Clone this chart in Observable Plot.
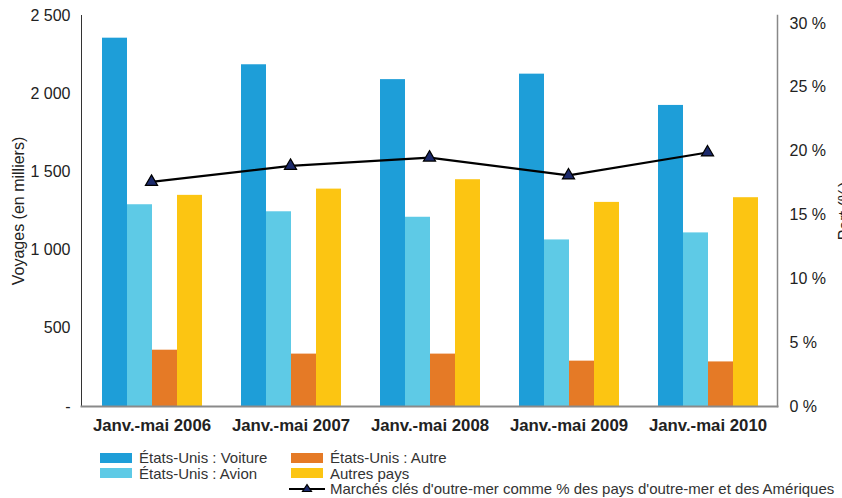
<!DOCTYPE html>
<html>
<head>
<meta charset="utf-8">
<script src="https://cdn.jsdelivr.net/npm/d3@7"></script>
<script src="https://cdn.jsdelivr.net/npm/@observablehq/plot@0.6"></script>
<style>
  html, body { margin: 0; padding: 0; background: #fff; overflow: hidden; }
  #wrap { position: relative; width: 842px; height: 498px; font-family: "Liberation Sans", Arial, sans-serif; color: #222; }
  #wrap > svg { position: absolute; left: 0; top: 0; }
  #legend { position: absolute; left: 100px; top: 450px; display: grid; grid-template-columns: 191px auto; grid-template-rows: repeat(3, 15.5px); font-size: 15px; color: #333; }
  .item { display: flex; align-items: center; white-space: nowrap; }
  .sw { width: 32px; height: 10px; margin-right: 7px; }
  .lineicon { margin-left: -2px; margin-right: 5px; }
</style>
</head>
<body>
<div id="wrap"></div>
<script>
const years = ["Janv.-mai 2006", "Janv.-mai 2007", "Janv.-mai 2008", "Janv.-mai 2009", "Janv.-mai 2010"];
const series = ["États-Unis : Voiture", "États-Unis : Avion", "États-Unis : Autre", "Autres pays"];
const colors = ["#1e9ed8", "#5ecae6", "#e57a26", "#fcc512"];
const voiture = [2355, 2185, 2090, 2125, 1925];
const avion = [1290, 1245, 1210, 1065, 1110];
const autre = [360, 335, 335, 290, 285];
const autresPays = [1350, 1390, 1450, 1305, 1335];
const partLabel = "Marchés clés d'outre-mer comme % des pays d'outre-mer et des Amériques";
const part = [17.6, 18.85, 19.5, 18.1, 19.9];
const leftTicks = [0, 500, 1000, 1500, 2000, 2500];
const rightTicks = [0, 5, 10, 15, 20, 25, 30];

const seriesValues = [voiture, avion, autre, autresPays];
const table = [];
years.forEach((yr, i) => series.forEach((s, k) => table.push({year: yr, series: s, value: seriesValues[k][i]})));
const lineData = years.map((yr, i) => ({year: yr, part: part[i]}));

const fmtLeft = d => d === 0 ? "-" : d3.format(",")(d).replace(/,/g, " ");

const W = 842, H = 442, ML = 81, MR = 65, MT = 15, MB = 36;
const font = {fontFamily: "'Liberation Sans', Arial, sans-serif", fontSize: "16px", color: "#222", background: "transparent"};
const dims = {width: W, height: H, marginLeft: ML, marginRight: MR, marginTop: MT, marginBottom: MB, style: font};

const bars = Plot.plot({
  ...dims,
  fx: {domain: years, paddingInner: 0.274, paddingOuter: 0.137},
  x: {domain: series, padding: 0, axis: null},
  y: {domain: [0, 2500], axis: null},
  color: {domain: series, range: colors},
  marks: [
    Plot.barY(table, {fx: "year", x: "series", y: "value", fill: "series"}),
    Plot.axisFx({anchor: "bottom", tickSize: 0, tickPadding: 13, fontWeight: "bold", fontSize: 16.8, label: null})
  ]
});

const leftAxis = Plot.plot({
  ...dims,
  y: {domain: [0, 2500]},
  marks: [
    Plot.axisY({ticks: leftTicks, tickFormat: fmtLeft, tickSize: 0, tickPadding: 11, fontSize: 16,
      label: "Voyages (en milliers)", labelAnchor: "center", labelOffset: 69, labelArrow: "none"})
  ]
});

const overlay = Plot.plot({
  ...dims,
  x: {type: "point", domain: years, padding: 0.5, axis: null},
  y: {domain: [0, 30.63]},
  marks: [
    Plot.frame({anchor: "left", stroke: "#333", strokeWidth: 1}),
    Plot.frame({anchor: "right", stroke: "#888", strokeWidth: 1.5}),
    Plot.frame({anchor: "bottom", stroke: "#8a8a8a", strokeWidth: 2}),
    Plot.axisY({anchor: "right", ticks: rightTicks, tickFormat: d => d + " %", tickSize: 0, tickPadding: 12, fontSize: 16,
      label: "Part (%)", labelAnchor: "center", labelOffset: 72, labelArrow: "none"}),
    Plot.line(lineData, {x: "year", y: "part", stroke: "#000", strokeWidth: 2.2}),
    Plot.dot(lineData, {x: "year", y: "part", symbol: "triangle", r: 4.5, fill: "#1c2a6b", stroke: "#000", strokeWidth: 1.2})
  ]
});

const wrap = document.getElementById("wrap");
wrap.appendChild(bars);
wrap.appendChild(leftAxis);
wrap.appendChild(overlay);

const legend = document.createElement("div");
legend.id = "legend";
const cells = [[1,1],[2,1],[1,2],[2,2]];
series.forEach((s, k) => {
  const it = document.createElement("div");
  it.className = "item";
  it.style.gridRow = cells[k][0];
  it.style.gridColumn = cells[k][1];
  const sw = document.createElement("span");
  sw.className = "sw";
  sw.style.background = colors[k];
  const tx = document.createElement("span");
  tx.textContent = s;
  it.appendChild(sw); it.appendChild(tx);
  legend.appendChild(it);
});
const li = document.createElement("div");
li.className = "item";
li.style.gridRow = 3; li.style.gridColumn = 2;
li.innerHTML = '<svg class="lineicon" width="36" height="12"><line x1="0" y1="6" x2="36" y2="6" stroke="#000" stroke-width="2.2"/><path d="M18,1.5 L22.5,8.5 L13.5,8.5 Z" fill="#1c2a6b" stroke="#000" stroke-width="1.2"/></svg>';
const lt = document.createElement("span");
lt.textContent = partLabel;
li.appendChild(lt);
legend.appendChild(li);
wrap.appendChild(legend);
</script>
</body>
</html>
